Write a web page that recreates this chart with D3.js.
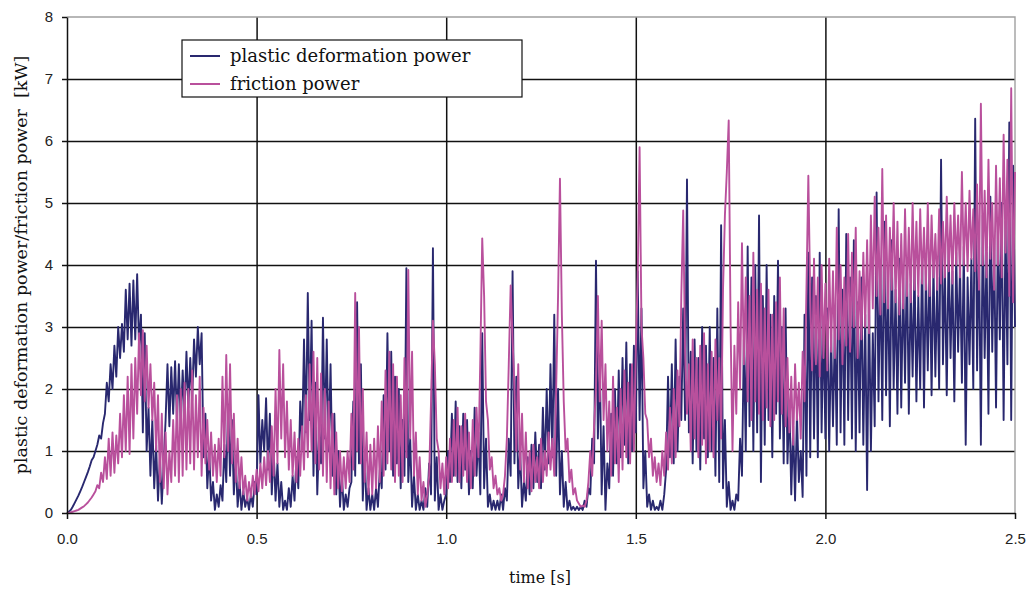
<!DOCTYPE html>
<html>
<head>
<meta charset="utf-8">
<script src="https://cdn.jsdelivr.net/npm/d3@7"></script>
<style>
  body { margin: 0; background: #fff; }
  .serif { font-family: "DejaVu Serif", "Liberation Serif", serif; }
</style>
</head>
<body>
<div id="chart"></div>
<script>
// sample step of the recorded signals [s]
const dt = 0.005

// plastic deformation power [kW], one row = 0.1 s
const plastic = [
  0, 0.02, 0.05, 0.1, 0.16, 0.22, 0.28, 0.35, 0.42, 0.5, 0.58, 0.66, 0.75, 0.85, 0.9, 1.0, 1.1, 1.25, 1.2, 1.45,
  1.6, 2.1, 1.8, 2.4, 2.0, 2.7, 2.2, 3.0, 2.5, 3.05, 2.6, 3.6, 2.8, 3.7, 2.7, 3.75, 2.8, 3.85, 2.7, 3.2,
  1.3, 2.9, 1.0, 1.7, 0.6, 1.5, 0.4, 1.1, 0.2, 0.9, 0.15, 0.8, 1.5, 2.4, 1.4, 2.35, 1.6, 2.45, 1.5, 2.4,
  1.4, 2.3, 1.6, 2.6, 1.7, 2.5, 1.8, 2.8, 2.2, 3.0, 2.4, 2.9, 0.9, 1.6, 0.4, 1.0, 0.2, 0.5, 0.05, 0.3,
  0.1, 0.45, 0.2, 1.1, 0.5, 1.75, 0.6, 1.5, 0.3, 0.9, 0.1, 0.5, 0.05, 0.35, 0.1, 0.25, 0.05, 0.3, 0.1, 0.5,
  0.3, 1.9, 0.8, 1.5, 1.0, 1.85, 0.7, 1.6, 0.3, 1.0, 0.2, 0.8, 0.1, 0.5, 0.05, 0.2, 0.05, 0.4, 0.1, 0.6,
  0.2, 0.9, 0.4, 1.8, 1.1, 2.8, 1.3, 3.55, 1.5, 3.1, 0.6, 2.1, 0.3, 1.3, 0.8, 3.15, 1.2, 2.8, 1.0, 2.4,
  0.6, 1.6, 0.3, 1.0, 0.1, 0.6, 0.05, 0.3, 0.1, 0.4, 0.5, 1.8, 0.6, 3.4, 0.8, 2.4, 0.2, 1.0, 0.05, 0.4,
  0.05, 0.3, 0.05, 0.4, 0.1, 0.7, 0.4, 1.9, 0.7, 2.9, 1.0, 2.6, 0.6, 2.2, 0.8, 2.0, 0.4, 1.5, 0.6, 3.95,
  0.5, 1.2, 0.1, 0.6, 0.05, 0.3, 0.05, 0.2, 0.05, 0.4, 0.1, 0.8, 0.3, 4.27, 0.2, 0.9, 0.05, 0.3, 0.05, 0.2,
  0.3, 1.0, 0.5, 1.6, 0.6, 1.8, 0.5, 1.4, 0.4, 1.6, 0.7, 1.5, 0.3, 1.0, 0.4, 1.7, 0.6, 1.3, 0.3, 2.9,
  0.4, 1.2, 0.1, 0.3, 0.05, 0.2, 0.05, 0.2, 0.05, 0.3, 0.05, 0.4, 0.2, 1.2, 0.6, 3.9, 0.8, 2.2, 0.4, 1.0,
  0.1, 0.5, 0.2, 0.9, 0.3, 1.1, 0.4, 1.3, 0.5, 1.1, 0.4, 1.7, 0.7, 2.0, 0.8, 2.4, 0.9, 3.2, 0.6, 2.0,
  0.3, 1.0, 0.1, 0.5, 0.05, 0.2, 0.05, 0.1, 0.05, 0.1, 0.05, 0.1, 0.05, 0.2, 0.1, 0.4, 0.3, 1.2, 0.8, 4.07,
  1.2, 2.5, 0.3, 1.4, 0.05, 0.8, 0.4, 1.6, 0.6, 2.0, 0.8, 2.3, 0.9, 2.5, 1.1, 2.75, 0.8, 2.4, 1.0, 2.7,
  1.3, 3.9, 1.5, 3.3, 0.4, 1.0, 0.1, 0.3, 0.05, 0.2, 0.05, 0.1, 0.05, 0.2, 0.05, 0.3, 0.7, 2.2, 0.9, 2.4,
  0.8, 2.8, 1.0, 2.2, 1.5, 3.3, 1.5, 5.38, 1.3, 2.6, 0.8, 2.8, 1.0, 2.5, 0.7, 3.0, 1.2, 2.7, 0.9, 3.0,
  1.0, 2.5, 0.6, 3.3, 0.5, 4.64, 0.4, 1.5, 0.1, 0.5, 0.05, 0.2, 0.05, 0.3, 0.2, 1.2, 0.6, 2.8, 1.0, 4.3,
  1.4, 3.8, 1.0, 4.0, 1.3, 4.8, 0.5, 3.5, 1.1, 4.0, 1.5, 3.2, 0.9, 3.5, 1.6, 4.07, 1.2, 3.0, 0.8, 3.3,
  0.8, 1.8, 0.3, 1.4, 0.2, 1.6, 0.5, 1.0, 0.26, 3.2, 0.6, 4.2, 0.9, 3.8, 1.2, 3.5, 0.9, 4.2, 1.3, 3.1,
  1.2, 3.3, 1.0, 2.9, 1.4, 3.0, 1.1, 4.9, 1.3, 3.6, 1.1, 4.5, 1.5, 3.8, 1.2, 4.4, 1.0, 3.4, 1.3, 3.8,
  1.1, 3.2, 0.37, 3.5, 1.0, 2.9, 1.4, 5.17, 1.8, 4.0, 1.5, 4.7, 1.9, 3.9, 1.4, 4.4, 2.0, 3.6, 1.6, 4.1,
  1.7, 3.8, 2.1, 4.1, 1.6, 3.7, 2.2, 4.0, 1.8, 3.5, 2.0, 4.2, 1.7, 3.9, 2.3, 4.1, 1.9, 4.0, 2.2, 3.8,
  2.0, 5.7, 2.4, 4.0, 1.9, 4.3, 2.5, 3.9, 1.8, 4.2, 2.6, 4.0, 2.1, 4.3, 1.1, 3.8, 2.4, 4.1, 2.0, 6.36,
  2.3, 4.5, 1.1, 4.8, 2.5, 4.2, 1.6, 5.1, 2.6, 4.4, 1.7, 4.6, 2.8, 5.0, 1.5, 4.7, 2.4, 6.3, 1.5, 5.6,
  3.0
]

// friction power [kW], one row = 0.1 s
const friction = [
  0, 0, 0.01, 0.02, 0.03, 0.04, 0.05, 0.07, 0.09, 0.11, 0.14, 0.17, 0.21, 0.25, 0.3, 0.35, 0.45, 0.4, 0.65, 0.5,
  0.9, 0.55, 1.2, 0.6, 1.3, 0.65, 1.25, 0.8, 1.6, 0.9, 1.9, 1.0, 2.2, 0.95, 2.4, 1.2, 2.5, 1.6, 2.9, 1.9,
  2.95, 1.8, 2.7, 1.7, 2.4, 1.5, 2.1, 1.0, 1.9, 0.5, 1.6, 0.4, 1.3, 0.3, 1.0, 0.5, 1.5, 0.6, 1.9, 0.5,
  2.0, 0.6, 2.1, 0.7, 2.0, 0.8, 2.3, 0.7, 1.9, 0.9, 2.2, 0.6, 1.7, 0.8, 1.5, 0.7, 1.3, 0.6, 1.1, 0.5,
  1.2, 0.6, 2.2, 0.9, 2.55, 1.0, 2.4, 0.8, 1.6, 0.5, 1.2, 0.4, 0.9, 0.3, 0.6, 0.2, 0.5, 0.25, 0.6, 0.3,
  0.7, 0.35, 0.8, 0.4, 0.9, 0.45, 1.0, 0.5, 1.4, 0.6, 2.0, 0.8, 2.63, 1.2, 2.4, 0.9, 1.8, 0.7, 1.5, 0.6,
  1.3, 0.5, 1.2, 0.6, 1.4, 0.7, 1.9, 0.9, 2.4, 1.0, 2.6, 0.8, 2.5, 0.7, 2.25, 0.6, 2.0, 0.5, 1.8, 0.4,
  1.6, 0.3, 1.3, 0.4, 1.0, 0.35, 0.9, 0.4, 1.0, 0.5, 1.6, 0.7, 3.55, 1.0, 3.0, 0.8, 2.0, 0.5, 1.3, 0.3,
  1.1, 0.3, 1.2, 0.4, 1.4, 0.5, 1.8, 0.6, 2.3, 0.8, 2.6, 0.7, 2.4, 0.5, 2.2, 0.6, 1.9, 0.5, 2.5, 0.9,
  3.92, 1.2, 2.6, 0.6, 1.3, 0.3, 0.9, 0.2, 0.5, 0.1, 0.3, 0.6, 1.8, 3.1, 2.4, 1.2, 1.0, 0.4, 0.8, 0.3,
  0.9, 0.4, 1.2, 0.5, 1.5, 0.6, 1.7, 0.5, 1.4, 0.6, 1.6, 0.5, 1.3, 0.4, 1.5, 0.6, 1.7, 0.9, 2.5, 4.43,
  3.5, 1.8, 1.5, 0.7, 0.9, 0.4, 0.6, 0.3, 0.4, 0.2, 0.3, 0.6, 1.2, 2.4, 3.67, 2.8, 2.0, 1.0, 2.4, 0.7,
  1.6, 0.5, 1.3, 0.4, 1.0, 0.35, 1.1, 0.5, 0.9, 0.4, 1.2, 0.5, 1.0, 0.6, 1.3, 0.7, 1.2, 0.6, 2.0, 3.5,
  5.39, 3.2, 1.8, 1.0, 1.2, 0.5, 0.7, 0.3, 0.4, 0.2, 0.15, 0.1, 0.12, 0.1, 0.2, 0.5, 1.0, 0.6, 1.4, 2.0,
  3.5, 1.8, 3.1, 1.5, 2.4, 1.0, 1.8, 0.6, 2.2, 0.8, 1.7, 0.5, 2.0, 0.7, 2.3, 0.9, 2.1, 0.8, 2.4, 1.0,
  2.6, 3.8, 5.9, 3.0, 2.5, 1.6, 1.5, 0.9, 1.2, 0.6, 0.9, 0.5, 0.8, 0.45, 1.0, 0.6, 1.3, 0.7, 1.7, 0.8,
  2.0, 0.9, 2.3, 1.4, 3.5, 4.88, 2.6, 1.6, 2.4, 1.0, 2.8, 1.2, 2.5, 0.9, 2.7, 1.1, 2.9, 0.8, 2.4, 1.0,
  2.6, 0.9, 2.8, 1.5, 2.5, 1.2, 3.6, 4.8, 5.5, 6.33, 3.0, 1.0, 2.7, 1.6, 3.4, 2.0, 4.35, 2.4, 3.8, 1.8,
  3.5, 1.5, 4.2, 1.8, 3.6, 1.6, 3.7, 1.5, 3.3, 1.7, 3.6, 1.4, 3.2, 1.5, 3.4, 1.8, 3.8, 1.6, 3.3, 1.4,
  2.5, 1.3, 2.2, 1.1, 2.4, 1.5, 2.1, 1.2, 2.6, 1.8, 3.6, 5.44, 3.5, 2.3, 4.1, 2.4, 3.8, 2.2, 4.0, 2.5,
  3.7, 2.3, 4.1, 2.6, 3.9, 2.5, 4.6, 2.8, 4.0, 2.4, 3.8, 2.7, 4.5, 2.6, 4.2, 3.0, 4.6, 2.5, 3.9, 2.8,
  4.2, 3.0, 4.4, 2.9, 4.8, 3.3, 5.1, 3.5, 4.6, 3.2, 5.55, 3.4, 4.8, 3.3, 4.6, 3.6, 5.0, 3.4, 4.7, 3.2,
  4.5, 3.3, 4.9, 3.5, 4.6, 3.4, 5.0, 3.6, 4.7, 3.5, 4.9, 3.7, 4.6, 3.6, 5.0, 3.5, 4.8, 3.8, 4.5, 3.6,
  4.9, 3.7, 4.7, 3.8, 5.1, 3.9, 4.8, 3.7, 5.0, 4.0, 4.8, 3.8, 5.5, 4.0, 5.0, 3.9, 5.2, 4.1, 4.9, 3.9,
  5.3, 3.6, 6.6, 4.0, 5.2, 3.8, 5.7, 4.1, 5.0, 3.6, 5.6, 4.0, 5.4, 3.8, 6.1, 4.2, 5.7, 3.5, 6.85, 3.4,
  5.5
]

const xTicks = [0, 0.5, 1.0, 1.5, 2.0, 2.5]
const yTicks = [0, 1, 2, 3, 4, 5, 6, 7, 8]
const seriesNames = ["plastic deformation power", "friction power"]
const colors = ["#29286f", "#b9509c"]

const margin = { top: 17, left: 67, right: 14, bottom: 77 },
      width = 1029 - margin.left - margin.right,
      height = 590 - margin.top - margin.bottom;

const svg = d3.select("#chart")
    .append("svg")
    .attr("width", width + margin.left + margin.right)
    .attr("height", height + margin.top + margin.bottom)

const plot = svg.append("g")
    .attr("transform", "translate(" + margin.left + "," + margin.top + ")")

const x = d3.scaleLinear().domain([0, 2.5]).range([0, width])
const y = d3.scaleLinear().domain([0, 8]).range([height, 0])

// grid
plot.append("g")
    .attr("class", "grid")
    .call(d3.axisLeft(y).tickValues(yTicks.slice(1, -1)).tickSize(-width).tickFormat(""))
    .select(".domain").remove()
plot.append("g")
    .attr("class", "grid")
    .call(d3.axisBottom(x).tickValues(xTicks.slice(1, -1)).tickSize(height).tickFormat(""))
    .select(".domain").remove()
plot.selectAll(".grid .tick line").attr("stroke", "#111").attr("stroke-width", 1.5)

// grey top and right frame
plot.append("path")
    .attr("d", "M0," + y(8) + "H" + x(2.5) + "V" + y(0))
    .attr("fill", "none")
    .attr("stroke", "#a0a0a0")
    .attr("stroke-width", 1.4)

// series
const line = d3.line()
    .x(function(d, i) { return x(i * dt) })
    .y(function(d) { return y(d) })

;[plastic, friction].forEach(function(vals, k) {
  plot.append("path")
      .datum(vals)
      .attr("fill", "none")
      .attr("stroke", colors[k])
      .attr("stroke-width", 1.9)
      .attr("stroke-linejoin", "round")
      .attr("d", line)
})

// axes
const yAxis = plot.append("g")
    .call(d3.axisLeft(y).tickValues(yTicks).tickSize(5).tickSizeOuter(0).tickPadding(9))
const xAxis = plot.append("g")
    .attr("transform", "translate(0," + height + ")")
    .call(d3.axisBottom(x).tickValues(xTicks).tickSize(6).tickSizeOuter(0).tickPadding(14).tickFormat(d3.format(".1f")))

;[yAxis, xAxis].forEach(function(a) {
  a.select(".domain").attr("stroke", "#111").attr("stroke-width", 1.5)
  a.selectAll(".tick line").attr("stroke", "#111").attr("stroke-width", 1.5)
  a.selectAll(".tick text")
    .attr("fill", "#222")
    .style("font-family", "'Liberation Sans', Arial, sans-serif")
    .style("font-size", "15px")
})

// axis titles
svg.append("text")
    .attr("class", "serif")
    .attr("x", 540)
    .attr("y", 583)
    .attr("text-anchor", "middle")
    .style("font-size", "16px")
    .attr("fill", "#111")
    .text("time [s]")

svg.append("text")
    .attr("class", "serif")
    .attr("transform", "translate(27,265) rotate(-90)")
    .attr("text-anchor", "middle")
    .style("font-size", "17.5px")
    .style("white-space", "pre")
    .attr("fill", "#111")
    .text("plastic deformation power/friction power  [kW]")

// legend
const legend = svg.append("g").attr("transform", "translate(182,40)")
legend.append("rect")
    .attr("width", 340).attr("height", 57)
    .attr("fill", "#fff").attr("stroke", "#111").attr("stroke-width", 1.2)

seriesNames.forEach(function(name, i) {
  const row = legend.append("g").attr("transform", "translate(0," + (16 + i * 28) + ")")
  row.append("line")
      .attr("x1", 8).attr("x2", 38)
      .attr("stroke", colors[i]).attr("stroke-width", 2)
  row.append("text")
      .attr("class", "serif")
      .attr("x", 48).attr("y", 6)
      .style("font-size", "18px")
      .attr("fill", "#111")
      .text(name)
})
</script>
</body>
</html>
